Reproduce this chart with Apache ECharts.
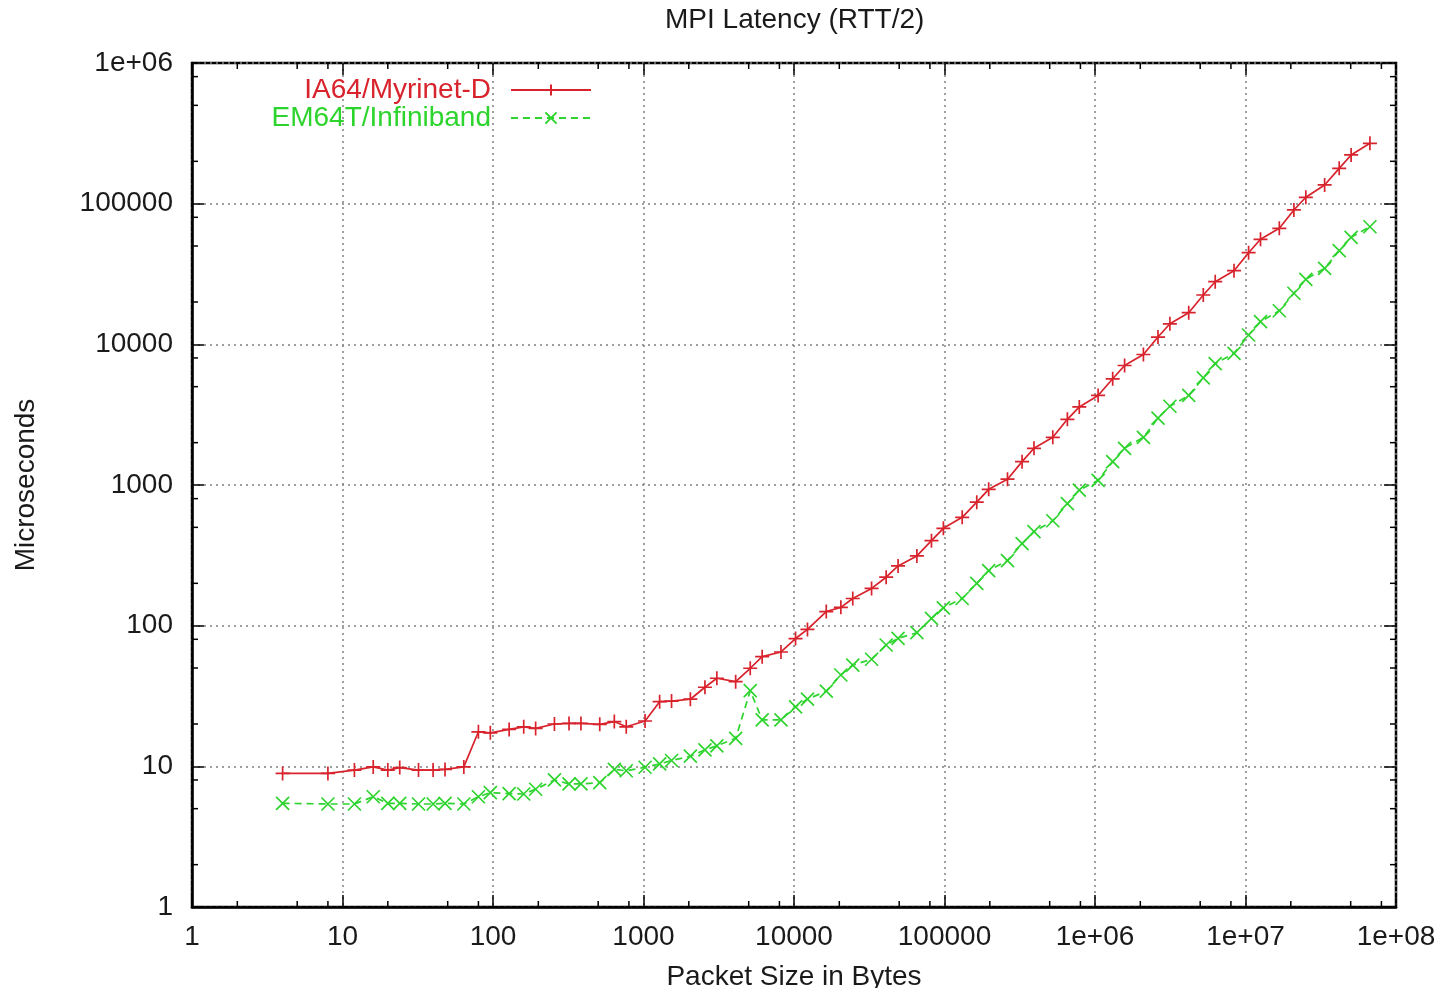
<!DOCTYPE html>
<html>
<head>
<meta charset="utf-8">
<script src="https://cdn.jsdelivr.net/npm/echarts@6/dist/echarts.min.js"></script>
<style>
  html, body { margin: 0; padding: 0; background: #fff; }
  #chart { width: 1447px; height: 988px; }
</style>
</head>
<body>
<div id="chart"></div>
<script>
// packet sizes in bytes (x)
const packetSizes = [
    4, 8, 12, 16, 20, 24, 32, 40, 48, 64, 80, 96, 128, 160, 192, 256, 320, 384,
    512, 640, 768, 1024, 1280, 1536, 2048, 2560, 3072, 4096, 5120, 6144, 8192,
    10240, 12288, 16384, 20480, 24576, 32768, 40960, 49152, 65536, 81920, 98304,
    131072, 163840, 196608, 262144, 327680, 393216, 524288, 655360, 786432,
    1048576, 1310720, 1572864, 2097152, 2621440, 3145728, 4194304, 5242880,
    6291456, 8388608, 10485760, 12582912, 16777216, 20971520, 25165824,
    33554432, 41943040, 50331648, 67108864
];

// latency in microseconds
const ia64Myrinet = [
    8.9, 8.9, 9.4, 9.9, 9.4, 9.8, 9.4, 9.4, 9.5, 9.9, 17.6, 17.3, 18.3, 19.1, 18.6, 20.0, 20.2, 20.2,
    19.9, 20.8, 19.1, 21.0, 28.8, 29.1, 30.0, 36.5, 42.3, 40.0, 49.8, 60.2, 65,
    81, 94, 126, 135, 156, 184, 221, 266, 313, 402, 492,
    589, 755, 931, 1100, 1466, 1824, 2183, 2931, 3590,
    4330, 5690, 7070, 8470, 11270, 14000, 16780, 22430,
    27870, 33380, 44800, 55800, 66800, 90200, 111000,
    135800, 178300, 222000, 268500
];

const em64tInfiniband = [
    5.46, 5.4, 5.4, 6.08, 5.46, 5.46, 5.4, 5.4, 5.46, 5.4, 6.08, 6.5, 6.4, 6.36, 6.87, 8.0, 7.5, 7.5,
    7.65, 9.5, 9.3, 9.85, 10.4, 11.0, 11.8, 13.1, 14.0, 15.8, 34.5, 21.4, 21.4,
    26.5, 30, 34.2, 44.6, 52.5, 57.7, 72.9, 81.3, 89.1, 112.8, 134,
    156, 200, 246, 290, 383, 466, 557, 736, 921,
    1080, 1466, 1824, 2183, 2990, 3630, 4330, 5780,
    7290, 8630, 11650, 14480, 17330, 23070, 28990,
    34690, 46350, 57640, 68550
];

const xTickLabels = ['1', '10', '100', '1000', '10000', '100000', '1e+06', '1e+07', '1e+08'];
const yTickLabels = ['1', '10', '100', '1000', '10000', '100000', '1e+06'];
const minorSteps = [2, 5, 8];

const RED = '#d8232d';
const GREEN = '#2ed42e';
const FONT = 'Liberation Sans';
const TXT = '#1a1a1a';
const FS = 28;

const xMinor = [];
const yMinor = [];
for (let e = 0; e < xTickLabels.length - 1; e++) {
    minorSteps.forEach(s => xMinor.push([s * Math.pow(10, e), 1]));
}
for (let e = 0; e < yTickLabels.length - 1; e++) {
    minorSteps.forEach(s => yMinor.push([1, s * Math.pow(10, e)]));
}

const tickStyle = { stroke: '#000', lineWidth: 1.5 };
const minorLen = 6;

// gnuplot style minor tics (2, 5, 8 per decade) on all four sides
function minorTicks(isX) {
    return function (params, api) {
        const cs = params.coordSys;
        const p = api.coord([api.value(0), api.value(1)]);
        let lines;
        if (isX) {
            lines = [
                { x1: p[0], y1: cs.y + cs.height, x2: p[0], y2: cs.y + cs.height - minorLen },
                { x1: p[0], y1: cs.y, x2: p[0], y2: cs.y + minorLen }
            ];
        } else {
            lines = [
                { x1: cs.x, y1: p[1], x2: cs.x + minorLen, y2: p[1] },
                { x1: cs.x + cs.width, y1: p[1], x2: cs.x + cs.width - minorLen, y2: p[1] }
            ];
        }
        return {
            type: 'group',
            children: lines.map(s => ({ type: 'line', shape: s, style: tickStyle }))
        };
    };
}

const plusPath = 'path://M6,0 L6,12 M0,6 L12,6';
const crossPath = 'path://M0,0 L12,12 M12,0 L0,12';

const chart = echarts.init(document.getElementById('chart'));

const baseX = {
    type: 'log',
    logBase: 10,
    min: 1,
    max: 1e8,
    splitNumber: 8
};
const baseY = {
    type: 'log',
    logBase: 10,
    min: 1,
    max: 1e6,
    splitNumber: 6
};

const majorTick = { show: true, inside: true, length: 12, lineStyle: { color: '#000', width: 1.5 } };

let option = {
    backgroundColor: '#fff',
    animation: false,
    textStyle: { fontFamily: FONT },
    title: {
        text: 'MPI Latency (RTT/2)',
        left: 660,
        top: 1,
        textStyle: { fontFamily: FONT, fontSize: FS, fontWeight: 'normal', color: TXT }
    },
    legend: [
        {
            data: [{ name: 'IA64/Myrinet-D', textStyle: { color: RED } }],
            right: 855,
            top: 76,
            orient: 'vertical',
            align: 'right',
            padding: 0,
            itemWidth: 80,
            itemHeight: 14,
            selectedMode: false,
            textStyle: { fontFamily: FONT, fontSize: FS, padding: [0, 15, 0, 0] }
        },
        {
            data: [{ name: 'EM64T/Infiniband', textStyle: { color: GREEN } }],
            right: 855,
            top: 104,
            orient: 'vertical',
            align: 'right',
            padding: 0,
            itemWidth: 80,
            itemHeight: 14,
            selectedMode: false,
            textStyle: { fontFamily: FONT, fontSize: FS, padding: [0, 15, 0, 0] }
        }
    ],
    grid: {
        left: 192,
        right: 51,
        top: 63,
        bottom: 81,
        outerBoundsMode: 'none',
        show: true,
        borderColor: '#000',
        borderWidth: 2.5,
        backgroundColor: 'transparent'
    },
    xAxis: [
        Object.assign({}, baseX, {
            position: 'bottom',
            name: 'Packet Size in Bytes',
            nameLocation: 'middle',
            nameGap: 56,
            nameTextStyle: { fontFamily: FONT, fontSize: FS, color: TXT },
            axisLine: { show: true, lineStyle: { color: '#000', width: 2.5 } },
            axisTick: majorTick,
            axisLabel: {
                show: true,
                margin: 16,
                fontFamily: FONT,
                fontSize: FS,
                color: TXT,
                formatter: v => xTickLabels[Math.round(Math.log10(v))]
            },
            splitLine: { show: true, lineStyle: { color: '#808080', width: 1.5, type: [2, 4] } }
        }),
        Object.assign({}, baseX, {
            position: 'top',
            axisLine: { show: false },
            axisTick: majorTick,
            axisLabel: { show: false },
            splitLine: { show: false }
        })
    ],
    yAxis: [
        Object.assign({}, baseY, {
            position: 'left',
            name: 'Microseconds',
            nameLocation: 'middle',
            nameGap: 152,
            nameTextStyle: { fontFamily: FONT, fontSize: FS, color: TXT },
            axisLine: { show: true, lineStyle: { color: '#000', width: 2.5 } },
            axisTick: majorTick,
            axisLabel: {
                show: true,
                margin: 19,
                fontFamily: FONT,
                fontSize: FS,
                color: TXT,
                formatter: v => yTickLabels[Math.round(Math.log10(v))]
            },
            splitLine: { show: true, lineStyle: { color: '#808080', width: 1.5, type: [2, 4] } }
        }),
        Object.assign({}, baseY, {
            position: 'right',
            axisLine: { show: false },
            axisTick: majorTick,
            axisLabel: { show: false },
            splitLine: { show: false }
        })
    ],
    series: [
        {
            name: 'IA64/Myrinet-D',
            type: 'line',
            data: packetSizes.map((x, i) => [x, ia64Myrinet[i]]),
            symbol: plusPath,
            symbolSize: 14,
            showAllSymbol: true,
            lineStyle: { color: RED, width: 1.7 },
            itemStyle: { color: RED, borderColor: RED, borderWidth: 1.7 },
            emphasis: { disabled: true },
            z: 4
        },
        {
            name: 'EM64T/Infiniband',
            type: 'line',
            data: packetSizes.map((x, i) => [x, em64tInfiniband[i]]),
            symbol: crossPath,
            symbolSize: 13,
            showAllSymbol: true,
            lineStyle: { color: GREEN, width: 1.7, type: [7, 5] },
            itemStyle: { color: GREEN, borderColor: GREEN, borderWidth: 1.7 },
            emphasis: { disabled: true },
            z: 3
        },
        {
            type: 'custom',
            silent: true,
            renderItem: minorTicks(true),
            data: xMinor,
            z: 5
        },
        {
            type: 'custom',
            silent: true,
            renderItem: minorTicks(false),
            data: yMinor,
            z: 5
        }
    ]
};
chart.setOption(option);
</script>
</body>
</html>
